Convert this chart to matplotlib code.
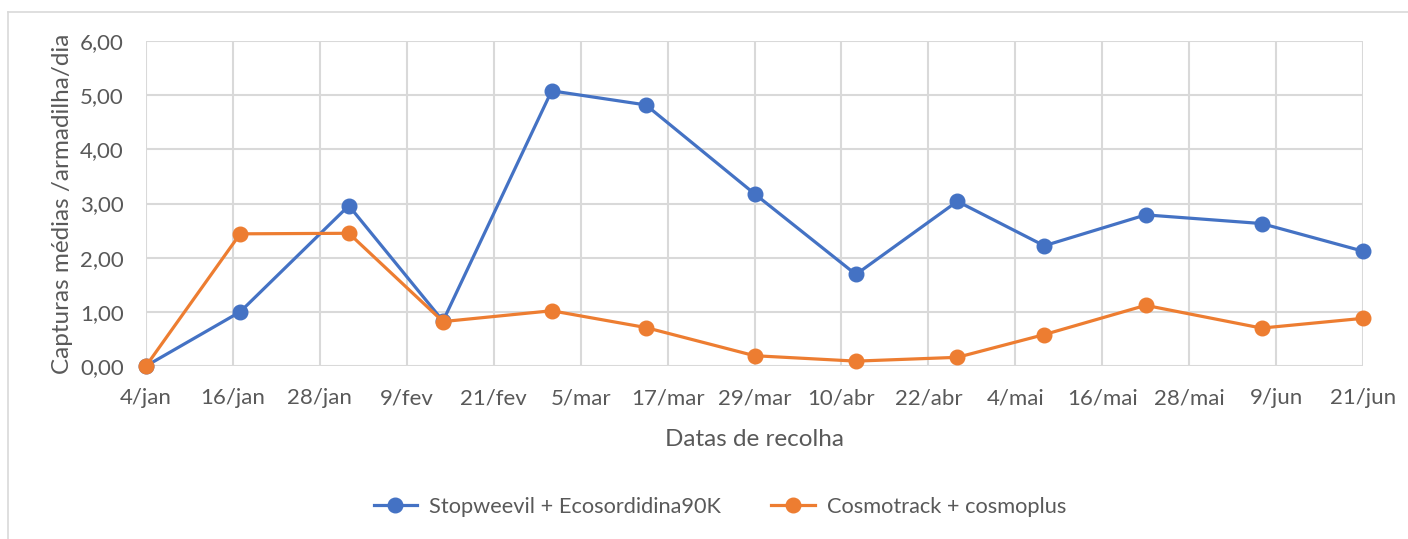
import matplotlib
matplotlib.use("Agg")
import matplotlib.pyplot as plt
import matplotlib.dates as mdates
from matplotlib.ticker import FuncFormatter, MultipleLocator
from matplotlib.lines import Line2D
import datetime as dt

dates = ["2019-01-04", "2019-01-17", "2019-02-01", "2019-02-14", "2019-03-01",
         "2019-03-14", "2019-03-29", "2019-04-12", "2019-04-26", "2019-05-08",
         "2019-05-22", "2019-06-07", "2019-06-21"]
stopweevil = [0.00, 1.00, 2.96, 0.83, 5.08, 4.82, 3.18, 1.69, 3.04, 2.22, 2.79, 2.63, 2.12]
cosmotrack = [0.00, 2.44, 2.45, 0.82, 1.02, 0.71, 0.19, 0.09, 0.16, 0.58, 1.12, 0.70, 0.88]
series_names = ["Stopweevil + Ecosordidina90K", "Cosmotrack + cosmoplus"]
months_pt = ["jan", "fev", "mar", "abr", "mai", "jun", "jul", "ago", "set", "out", "nov", "dez"]

x = [dt.datetime.strptime(d, "%Y-%m-%d") for d in dates]

FONT = ["Lato", "DejaVu Sans"]
plt.rcParams['font.family'] = FONT
TXT = "#595959"
GRID = "#d9d9d9"
BLUE = "#4472C4"
ORANGE = "#ED7D31"

W, H = 1408, 539
fig = plt.figure(figsize=(W / 100, H / 100), dpi=100)
left, right, top, bottom = 146, 1363, 41, 366
ax = fig.add_axes([left / W, 1 - bottom / H, (right - left) / W, (bottom - top) / H])

ax.plot(x, stopweevil, color=BLUE, lw=2.3, marker="o", ms=10.5, zorder=3,
        solid_joinstyle="round", clip_on=False, label=series_names[0])
ax.plot(x, cosmotrack, color=ORANGE, lw=2.3, marker="o", ms=10.5, zorder=4,
        solid_joinstyle="round", clip_on=False, label=series_names[1])

ax.set_xlim(x[0], x[-1])
ax.set_ylim(0, 6)
ticks = [mdates.date2num(x[0]) + 12 * i for i in range(15)]
ax.set_xticks(ticks)

def fmt_date(v, pos):
    d = mdates.num2date(v)
    return f"{d.day}/{months_pt[d.month - 1]}"

ax.xaxis.set_major_formatter(FuncFormatter(fmt_date))
ax.yaxis.set_major_locator(MultipleLocator(1))
ax.yaxis.set_major_formatter(FuncFormatter(lambda v, p: f"{v:.2f}".replace(".", ",")))

for s in ax.spines.values():
    s.set_visible(False)
ax.grid(True, color=GRID, lw=1.5, zorder=0)
ax.set_axisbelow(True)
ax.tick_params(length=0, labelsize=16, colors=TXT)
ax.tick_params(axis="x", pad=16)
ax.tick_params(axis="y", pad=16)
for lab in ax.get_xticklabels() + ax.get_yticklabels():
    lab.set_color(TXT)

ax.set_xlabel("Datas de recolha", fontsize=17.5, color=TXT, labelpad=15)
ax.set_ylabel("Capturas médias /armadilha/dia", fontsize=17.5, color=TXT, labelpad=5)

handles = [Line2D([0], [0], color=BLUE, lw=2.3, marker="o", ms=10.5),
           Line2D([0], [0], color=ORANGE, lw=2.3, marker="o", ms=10.5)]
fig.legend(handles, series_names, loc="center", bbox_to_anchor=(720 / W, 1 - 507 / H),
           ncol=2, frameon=False, fontsize=15.7, labelcolor=TXT, handlelength=2.0,
           columnspacing=2.3, handletextpad=0.55)

# outer chart border (top and left visible)
fig.add_artist(Line2D([8 / W, 8 / W], [0, 1 - 12 / H], color=GRID, lw=1.2, transform=fig.transFigure))
fig.add_artist(Line2D([8 / W, 1], [1 - 12 / H, 1 - 12 / H], color=GRID, lw=1.2, transform=fig.transFigure))

fig.savefig("out.png", dpi=100)
